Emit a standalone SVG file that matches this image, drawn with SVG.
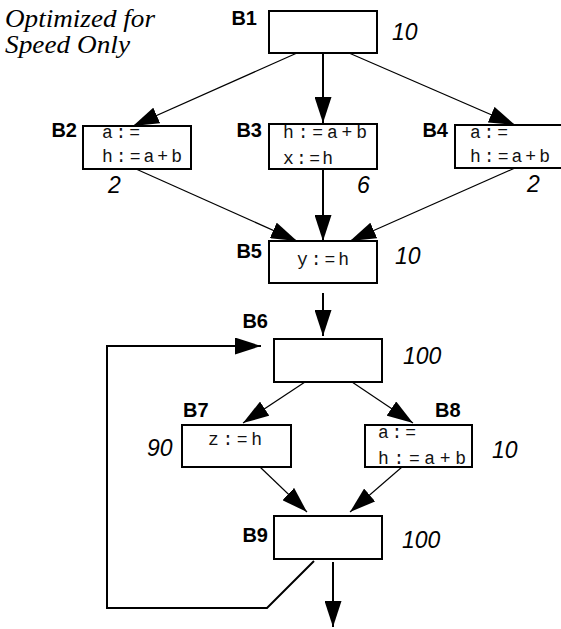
<svg xmlns="http://www.w3.org/2000/svg" width="561" height="629" viewBox="0 0 561 629">
<style>
.box{fill:#fff;stroke:#000;stroke-width:2}
.lbl{font-family:"Liberation Sans",Arial,sans-serif;font-weight:bold;font-size:20px;fill:#000}
.num{font-family:"Liberation Sans",Arial,sans-serif;font-style:italic;font-size:23px;fill:#000}
.code{font-family:"Liberation Mono","Courier New",monospace;font-size:18px;fill:#111}
.thin{fill:none;stroke:#000;stroke-width:1.2}
.thick{fill:none;stroke:#000;stroke-width:2}
.title{font-family:"Liberation Serif","Times New Roman",serif;font-style:italic;font-size:25px;fill:#000}
</style>
<defs>
<marker id="ah" markerUnits="userSpaceOnUse" markerWidth="26" markerHeight="17" refX="26" refY="8.5" orient="auto">
<path d="M0,0 L26,8.5 L0,17 z" fill="#000"/>
</marker>
</defs>
<rect width="561" height="629" fill="#fff"/>
<g id="title">
<text class="title" x="5" y="27" textLength="150" lengthAdjust="spacingAndGlyphs">Optimized for</text>
<text class="title" x="5" y="53" textLength="125" lengthAdjust="spacingAndGlyphs">Speed Only</text>
</g>
<g id="connectors">
<line class="thin" x1="297" y1="53" x2="133" y2="126" marker-end="url(#ah)"/>
<line class="thick" x1="323" y1="53" x2="323" y2="123" marker-end="url(#ah)"/>
<line class="thin" x1="349" y1="53" x2="515" y2="125" marker-end="url(#ah)"/>
<line class="thin" x1="136" y1="169" x2="297" y2="241" marker-end="url(#ah)"/>
<line class="thick" x1="323" y1="169" x2="323" y2="241" marker-end="url(#ah)"/>
<line class="thin" x1="515" y1="168" x2="350" y2="241" marker-end="url(#ah)"/>
<line class="thick" x1="323" y1="293" x2="323" y2="336" marker-end="url(#ah)"/>
<line class="thin" x1="305" y1="382" x2="243" y2="423" marker-end="url(#ah)"/>
<line class="thin" x1="352" y1="382" x2="413" y2="423" marker-end="url(#ah)"/>
<line class="thin" x1="260" y1="467" x2="307" y2="512" marker-end="url(#ah)"/>
<line class="thin" x1="402" y1="467" x2="350" y2="512" marker-end="url(#ah)"/>
<line class="thick" x1="333" y1="562" x2="333" y2="627" marker-end="url(#ah)"/>
<path class="thick" d="M314,561 L267,608 L107,608 L107,346 L261,346" marker-end="url(#ah)"/>
</g>
<g id="B1">
<rect class="box" x="269" y="11" width="108" height="42"/>
<text class="lbl" x="257" y="25" text-anchor="end">B1</text>
<text class="num" x="392" y="40">10</text>
</g>
<g id="B2">
<rect class="box" x="83" y="126" width="108" height="43"/>
<text class="lbl" x="77" y="137" text-anchor="end">B2</text>
<text class="code" x="102" y="138" textLength="38" lengthAdjust="spacing">a:=</text>
<text class="code" x="102" y="162" textLength="80" lengthAdjust="spacing">h:=a+b</text>
<text class="num" x="108" y="193">2</text>
</g>
<g id="B3">
<rect class="box" x="269" y="124" width="108" height="45"/>
<text class="lbl" x="262" y="137" text-anchor="end">B3</text>
<text class="code" x="283" y="138" textLength="84" lengthAdjust="spacing">h:=a+b</text>
<text class="code" x="283" y="164" textLength="50" lengthAdjust="spacing">x:=h</text>
<text class="num" x="357" y="193">6</text>
</g>
<g id="B4">
<rect class="box" x="455" y="125" width="108" height="43"/>
<text class="lbl" x="448" y="137" text-anchor="end">B4</text>
<text class="code" x="470" y="138" textLength="38" lengthAdjust="spacing">a:=</text>
<text class="code" x="470" y="162" textLength="80" lengthAdjust="spacing">h:=a+b</text>
<text class="num" x="527" y="192">2</text>
</g>
<g id="B5">
<rect class="box" x="269" y="241" width="108" height="42"/>
<text class="lbl" x="262" y="258" text-anchor="end">B5</text>
<text class="code" x="297" y="265" textLength="52" lengthAdjust="spacing">y:=h</text>
<text class="num" x="395" y="264">10</text>
</g>
<g id="B6">
<rect class="box" x="274" y="339" width="108" height="43"/>
<text class="lbl" x="268" y="328" text-anchor="end">B6</text>
<text class="num" x="403" y="364">100</text>
</g>
<g id="B7">
<rect class="box" x="182" y="425" width="109" height="42"/>
<text class="lbl" x="183" y="417">B7</text>
<text class="code" x="208" y="445" textLength="54" lengthAdjust="spacing">z:=h</text>
<text class="num" x="147" y="456">90</text>
</g>
<g id="B8">
<rect class="box" x="365" y="425" width="107" height="42"/>
<text class="lbl" x="435" y="417">B8</text>
<text class="code" x="378" y="438" textLength="38" lengthAdjust="spacing">a:=</text>
<text class="code" x="378" y="464" textLength="88" lengthAdjust="spacing">h:=a+b</text>
<text class="num" x="492" y="458">10</text>
</g>
<g id="B9">
<rect class="box" x="274" y="516" width="108" height="43"/>
<text class="lbl" x="268" y="542" text-anchor="end">B9</text>
<text class="num" x="402" y="548">100</text>
</g>
</svg>
